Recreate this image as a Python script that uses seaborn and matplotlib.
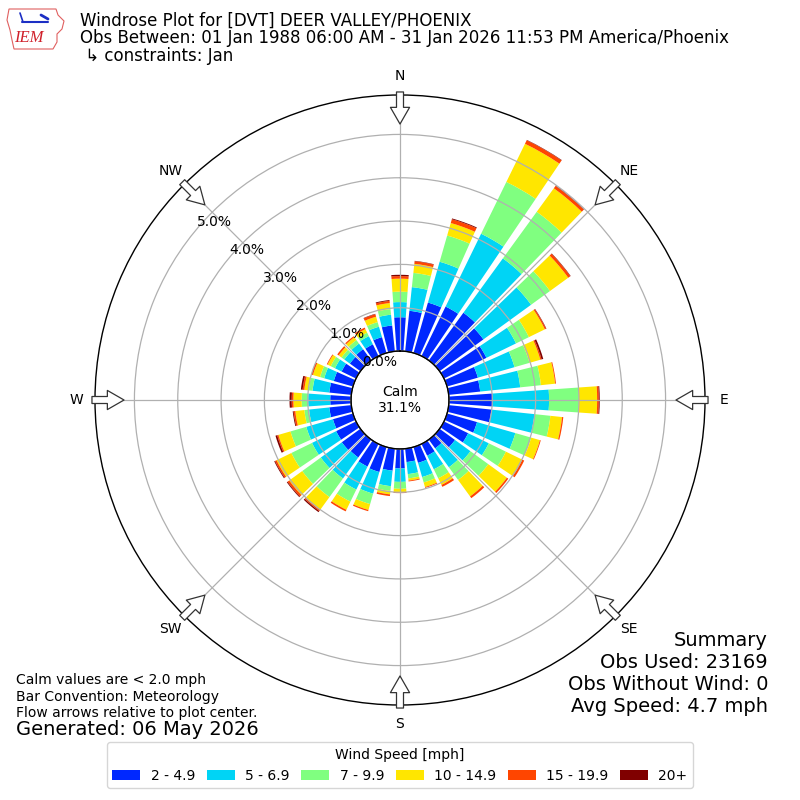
import numpy as np
import matplotlib
matplotlib.use("Agg")
import matplotlib.pyplot as plt
from matplotlib.patches import Patch, Polygon
import seaborn as sns

# wind direction bins (deg, meteorological: direction wind blows from)
directions = np.arange(0, 360, 10)
speed_labels = ["2 - 4.9", "5 - 6.9", "7 - 9.9", "10 - 14.9", "15 - 19.9", "20+"]
speed_colors = ["#0028ff", "#00d4f5", "#80ff80", "#ffe600", "#ff4500", "#800000"]
compass_labels = ["N", "NE", "E", "SE", "S", "SW", "W", "NW"]

# frequency (% of all obs) per direction bin for each speed class
spd_2_5 = [0.78, 0.94, 1.21, 1.27, 1.36, 1.25, 1.09, 0.74, 0.73, 1.01, 0.99, 0.72,
           0.62, 0.44, 0.25, 0.30, 0.38, 0.31, 0.45, 0.51, 0.60, 0.58, 0.51, 0.53,
           0.51, 0.48, 0.51, 0.48, 0.51, 0.46, 0.37, 0.30, 0.32, 0.30, 0.38, 0.60]
spd_5_7 = [0.35, 0.55, 0.98, 1.87, 1.55, 1.36, 0.76, 0.88, 0.93, 1.30, 1.00, 0.92,
           0.53, 0.44, 0.54, 0.35, 0.34, 0.28, 0.31, 0.36, 0.52, 0.59, 0.60, 0.60,
           0.62, 0.64, 0.47, 0.51, 0.39, 0.23, 0.17, 0.16, 0.16, 0.21, 0.25, 0.25]
spd_7_10 = [0.24, 0.33, 0.63, 1.33, 1.33, 0.54, 0.33, 0.36, 0.48, 0.69, 0.37, 0.38,
            0.44, 0.51, 0.36, 0.23, 0.13, 0.10, 0.16, 0.11, 0.25, 0.31, 0.53, 0.53,
            0.53, 0.38, 0.11, 0.15, 0.09, 0.10, 0.11, 0.08, 0.10, 0.09, 0.11, 0.13]
spd_10_15 = [0.30, 0.21, 0.30, 0.98, 0.67, 0.52, 0.41, 0.26, 0.33, 0.42, 0.27, 0.21,
             0.42, 0.53, 0.47, 0.17, 0.11, 0.05, 0.08, 0.08, 0.14, 0.21, 0.37, 0.37,
             0.38, 0.29, 0.21, 0.19, 0.10, 0.17, 0.08, 0.08, 0.08, 0.09, 0.13, 0.14]
spd_15_20 = [0.06, 0.06, 0.09, 0.09, 0.07, 0.06, 0.03, 0.03, 0.02, 0.04, 0.03, 0.02,
             0.05, 0.04, 0.05, 0.05, 0.02, 0.02, 0.02, 0.04, 0.03, 0.04, 0.03, 0.05,
             0.04, 0.03, 0.04, 0.04, 0.04, 0.04, 0.02, 0.04, 0.03, 0.04, 0.06, 0.05]
spd_20_up = [0.03, 0.01, 0.02, 0.01, 0.01, 0.01, 0.01, 0.04, 0.00, 0.02, 0.00, 0.00,
             0.00, 0.00, 0.00, 0.00, 0.00, 0.00, 0.00, 0.00, 0.00, 0.00, 0.03, 0.02,
             0.02, 0.04, 0.02, 0.05, 0.04, 0.00, 0.00, 0.00, 0.00, 0.00, 0.01, 0.02]

calm_pct = 31.1
rticks = [0, 1, 2, 3, 4, 5]


def draw_windrose(fig):
    ax = fig.add_axes([0.11875, 0.11875, 0.7625, 0.7625], projection="polar")
    ax.set_theta_zero_location("N")
    ax.set_theta_direction(-1)
    ax.set_rorigin(-1.13)
    ax.set_ylim(0, 5.91)

    theta = np.radians(directions)
    bottom = np.zeros(len(directions))
    series = [spd_2_5, spd_5_7, spd_7_10, spd_10_15, spd_15_20, spd_20_up]
    for vals, col in zip(series, speed_colors):
        vals = np.array(vals)
        ax.bar(theta, vals, width=np.radians(8), bottom=bottom, color=col,
               edgecolor="none", linewidth=0, zorder=1)
        bottom += vals

    # grid
    ax.set_axisbelow(False)
    ax.set_xticks(np.radians(np.arange(0, 360, 45)))
    ax.set_xticklabels([])
    ax.set_yticks(rticks)
    ax.set_yticklabels([f"{t:.1f}%" for t in rticks], fontsize=10, color="black")
    ax.set_rlabel_position(310)
    ax.grid(True, color="#b0b0b0", linewidth=0.9)
    ax.spines["polar"].set_color("black")
    ax.spines["polar"].set_linewidth(1.0)

    # calm circle
    circ = np.linspace(0, 2 * np.pi, 361)
    ax.plot(circ, np.zeros_like(circ), color="black", lw=1.0, clip_on=False, zorder=3)
    ax.text(0.5, 0.5, f"Calm\n{calm_pct:.1f}%", transform=ax.transAxes,
            ha="center", va="center", fontsize=10, zorder=4)

    # compass labels and flow arrows
    for i, lab in enumerate(compass_labels):
        th = np.radians(i * 45)
        ax.text(th, 6.35, lab, ha="center", va="center", fontsize=10, clip_on=False)
        ax.annotate("", xy=(th, 5.24), xytext=(th, 5.98), annotation_clip=False,
                    arrowprops=dict(arrowstyle="simple,head_length=1.0,head_width=1.15,tail_width=0.42",
                                    fc="white", ec="#333333", lw=0.9,
                                    shrinkA=0, shrinkB=0, mutation_scale=12),
                    zorder=5)
    return ax


def draw_logo(fig):
    # rough IEM logo: state outline + station glyph + text
    outline = [(9, 9), (56, 9), (58, 15), (64, 21), (62, 29), (57, 34), (57, 42),
               (53, 49), (14, 49), (12, 40), (10, 30), (7, 20)]
    fig.patches.append(Polygon([(x / 800, 1 - y / 800) for x, y in outline], closed=True,
                               fill=False, ec="#e06060", lw=0.8, transform=fig.transFigure))
    fig.lines.append(plt.Line2D([22 / 800, 48 / 800], [1 - 22 / 800, 1 - 22 / 800],
                                color="#1c2fc4", lw=1.5, transform=fig.transFigure))
    fig.lines.append(plt.Line2D([20 / 800, 23 / 800], [1 - 13 / 800, 1 - 22 / 800],
                                color="#1c2fc4", lw=1.2, transform=fig.transFigure))
    fig.lines.append(plt.Line2D([41 / 800, 48 / 800], [1 - 15 / 800, 1 - 19 / 800],
                                color="#1c2fc4", lw=2.0, transform=fig.transFigure))
    fig.text(29 / 800, 1 - 38 / 800, "IEM", fontsize=12, color="#d0202a", style="italic",
             family="Liberation Serif", ha="center", va="center")


def main():
    sns.set_style("white")
    plt.rcParams["text.color"] = "black"
    plt.rcParams["xtick.color"] = "black"
    plt.rcParams["ytick.color"] = "black"
    plt.rcParams["font.family"] = ["DejaVu Sans"]

    fig = plt.figure(figsize=(8, 8), dpi=100)
    draw_windrose(fig)
    draw_logo(fig)

    # header
    fig.text(0.1, 0.974, "Windrose Plot for [DVT] DEER VALLEY/PHOENIX", fontsize=12, va="center")
    fig.text(0.1, 0.952, "Obs Between: 01 Jan 1988 06:00 AM - 31 Jan 2026 11:53 PM America/Phoenix",
             fontsize=12, va="center")
    fig.text(0.1, 0.930, " \u21b3 constraints: Jan", fontsize=12, va="center")

    # footer notes
    fig.text(0.02, 0.15, "Calm values are < 2.0 mph", fontsize=10, va="center")
    fig.text(0.02, 0.129, "Bar Convention: Meteorology", fontsize=10, va="center")
    fig.text(0.02, 0.109, "Flow arrows relative to plot center.", fontsize=10, va="center")
    fig.text(0.02, 0.088, "Generated: 06 May 2026", fontsize=14, va="center")

    summary = ["Summary", "Obs Used: 23169", "Obs Without Wind: 0", "Avg Speed: 4.7 mph"]
    for k, line in enumerate(summary):
        fig.text(0.96, 0.2 - k * 0.0275, line, fontsize=14, ha="right", va="center")

    handles = [Patch(facecolor=c, edgecolor="none") for c in speed_colors]
    fig.legend(handles, speed_labels, loc="lower center", bbox_to_anchor=(0.5, 0.006),
               ncol=6, fontsize=10, title="Wind Speed [mph]", title_fontsize=10,
               handlelength=2.0, handleheight=0.7, handletextpad=0.75,
               columnspacing=0.85, frameon=True)

    fig.savefig("out.png", dpi=100)


if __name__ == "__main__":
    main()
